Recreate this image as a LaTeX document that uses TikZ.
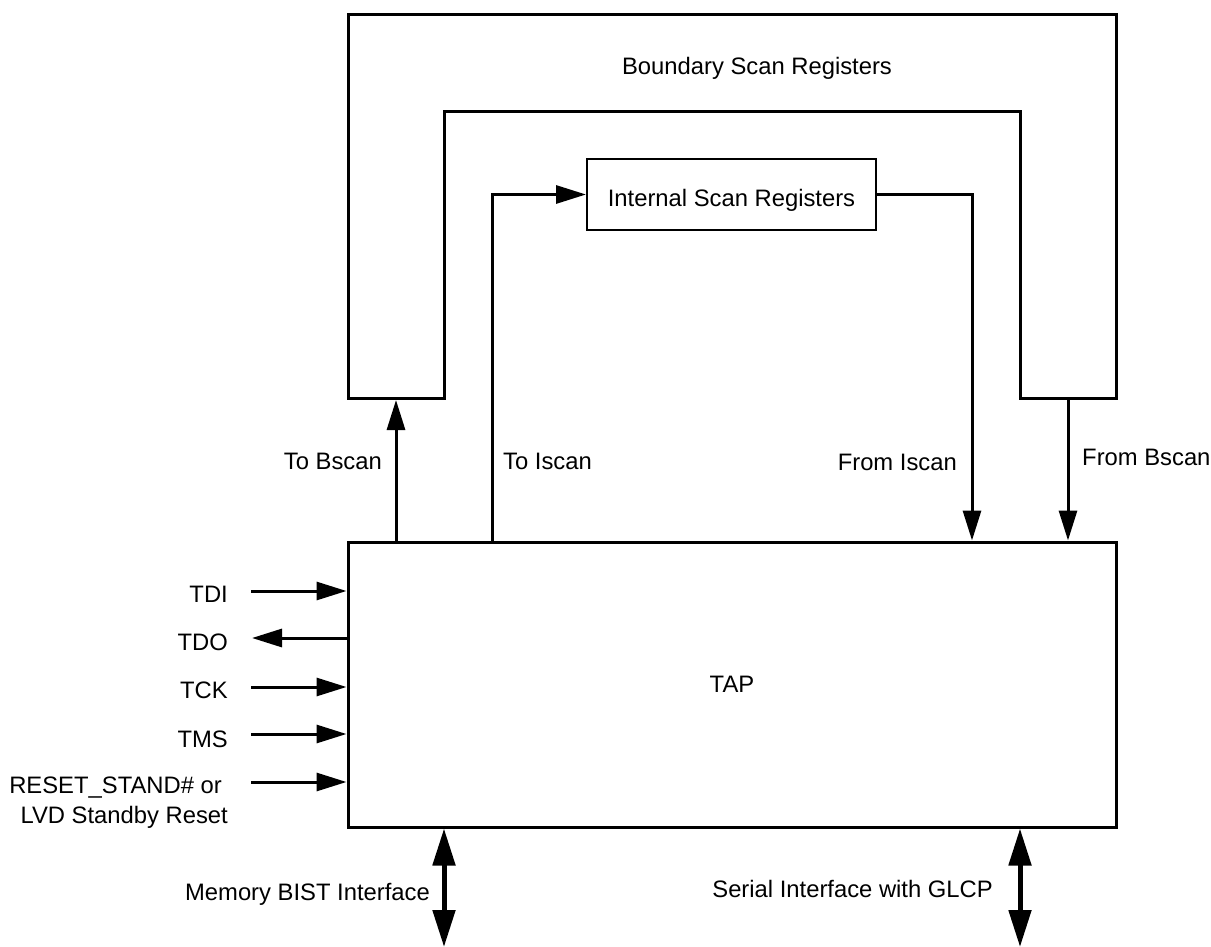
\documentclass[tikz,border=0pt]{standalone}
\usepackage{fontspec}
\setmainfont{Liberation Sans}
\usetikzlibrary{arrows.meta}
\begin{document}
\begin{tikzpicture}[x=1pt,y=-1pt,
  wire/.style={line width=3pt,line join=miter},
  sig/.style={line width=3pt,-{Triangle[length=30pt,width=18pt]}},
  bus/.style={line width=5pt,{Triangle[length=37pt,width=22pt]}-{Triangle[length=37pt,width=22pt]}},
  lbl/.style={inner sep=0pt,font=\fontsize{23.8}{30}\selectfont},
  box/.style={draw,inner sep=0pt,font=\fontsize{23.8}{30}\selectfont}]
\useasboundingbox (0,0) rectangle (1211,947);
% boundary scan U shape
\draw[wire] (444,398) -- (348,398) -- (348,15) -- (1116,15) -- (1116,398)
  -- (1020,398) -- (1020,112) -- (444,112) -- cycle;
\node[lbl,anchor=base] (bsr) at (757,75) {Boundary Scan Registers};
% internal scan registers
\node[box,line width=2pt,minimum width=289pt,minimum height=71pt] (isr) at (731.5,194.5) {};
\node[lbl,anchor=base] (isrt) at (731.5,207) {Internal Scan Registers};
% TAP
\node[box,line width=3pt,minimum width=768pt,minimum height=285pt] (tap) at (732,684.5) {TAP};
% connectors to/from scan chains
\coordinate (tb) at (396,400);
\coordinate (ti) at (492,0);
\coordinate (fi) at (972,0);
\coordinate (fb) at (1068,398);
\draw[sig] (tap.north -| tb) -- (tb);
\draw[sig] (tap.north -| ti) |- (isr.west);
\draw[sig] (isr.east) -| (tap.north -| fi);
\draw[sig] (fb) -- (tap.north -| fb);
\node[lbl,anchor=base east] (ltb) at (382,469) {To Bscan};
\node[lbl,anchor=base west] (lti) at (503,469) {To Iscan};
\node[lbl,anchor=base east] (lfi) at (957,470) {From Iscan};
\node[lbl,anchor=base west] (lfb) at (1082,465) {From Bscan};
% left signals
\coordinate (tdi) at (251,591);
\coordinate (tdo) at (252,638);
\coordinate (tck) at (251,687);
\coordinate (tms) at (251,734);
\coordinate (rst) at (251,782);
\draw[sig] (tdi) -- (tdi -| tap.west);
\draw[sig] (tdo -| tap.west) -- (tdo);
\draw[sig] (tck) -- (tck -| tap.west);
\draw[sig] (tms) -- (tms -| tap.west);
\draw[sig] (rst) -- (rst -| tap.west);
\node[lbl,anchor=base east] (ltdi) at (228,602) {TDI};
\node[lbl,anchor=base east] (ltdo) at (228,650) {TDO};
\node[lbl,anchor=base east] (ltck) at (228,698) {TCK};
\node[lbl,anchor=base east] (ltms) at (228,747) {TMS};
\node[lbl,anchor=base east] (lrst1) at (222,793) {RESET\_STAND\# or};
\node[lbl,anchor=base east] (lrst2) at (228,823) {LVD Standby Reset};
% bottom buses
\coordinate (mb) at (444,947);
\coordinate (sb) at (1020,947);
\draw[bus] (tap.south -| mb) -- (mb);
\draw[bus] (tap.south -| sb) -- (sb);
\node[lbl,anchor=base east] (lmb) at (430,900) {Memory BIST Interface};
\node[lbl,anchor=base east] (lsb) at (993,897) {Serial Interface with GLCP};
\end{tikzpicture}
\end{document}
